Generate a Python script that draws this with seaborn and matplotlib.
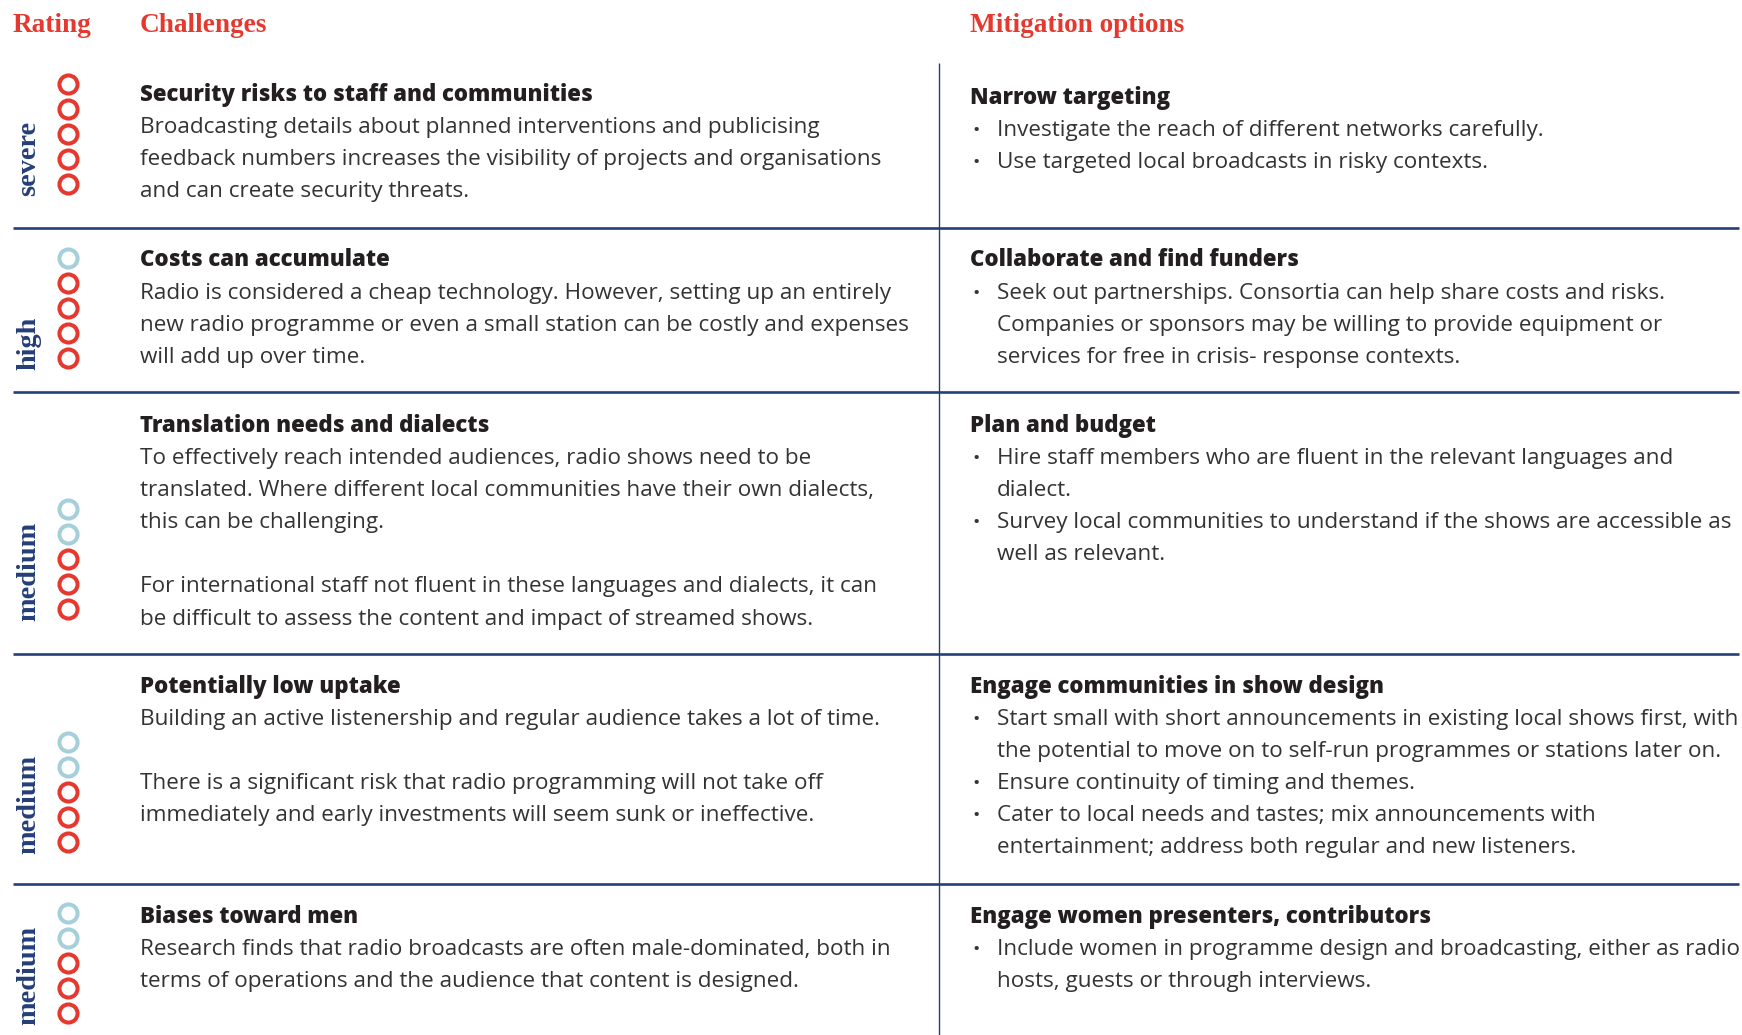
import pandas as pd
import seaborn as sns
import matplotlib.pyplot as plt

# ---- data ----
rating_levels = ["severe", "high", "medium", "medium", "medium"]
rating_scores = [5, 4, 3, 3, 3]  # red circles out of 5

challenge_titles = [
    "Security risks to staff and communities",
    "Costs can accumulate",
    "Translation needs and dialects",
    "Potentially low uptake",
    "Biases toward men",
]
challenge_lines = [
    ["Broadcasting details about planned interventions and publicising",
     "feedback numbers increases the visibility of projects and organisations",
     "and can create security threats."],
    ["Radio is considered a cheap technology. However, setting up an entirely",
     "new radio programme or even a small station can be costly and expenses",
     "will add up over time."],
    ["To effectively reach intended audiences, radio shows need to be",
     "translated. Where different local communities have their own dialects,",
     "this can be challenging.",
     "",
     "For international staff not fluent in these languages and dialects, it can",
     "be difficult to assess the content and impact of streamed shows."],
    ["Building an active listenership and regular audience takes a lot of time.",
     "",
     "There is a significant risk that radio programming will not take off",
     "immediately and early investments will seem sunk or ineffective."],
    ["Research finds that radio broadcasts are often male-dominated, both in",
     "terms of operations and the audience that content is designed."],
]

mitigation_titles = [
    "Narrow targeting",
    "Collaborate and find funders",
    "Plan and budget",
    "Engage communities in show design",
    "Engage women presenters, contributors",
]
mitigation_bullets = [
    [["Investigate the reach of different networks carefully."],
     ["Use targeted local broadcasts in risky contexts."]],
    [["Seek out partnerships. Consortia can help share costs and risks.",
      "Companies or sponsors may be willing to provide equipment or",
      "services for free in crisis- response contexts."]],
    [["Hire staff members who are fluent in the relevant languages and",
      "dialect."],
     ["Survey local communities to understand if the shows are accessible as",
      "well as relevant."]],
    [["Start small with short announcements in existing local shows first, with",
      "the potential to move on to self-run programmes or stations later on."],
     ["Ensure continuity of timing and themes."],
     ["Cater to local needs and tastes; mix announcements with",
      "entertainment; address both regular and new listeners."]],
    [["Include women in programme design and broadcasting, either as radio",
      "hosts, guests or through interviews."]],
]

headers = ["Rating", "Challenges", "Mitigation options"]

# ---- layout (pixels) ----
W, H = 1742, 1035
header_x = [13, 140, 970]
row_lines_y = [228, 392, 654, 884]
row_baseline = [100.8, 266.4, 431.9, 693, 923]
right_offset = [3.4, 0, 0, 0, 0]
circle_bottom_y = [184, 358, 609, 842, 1013]
circle_gap = 25
line_h = 32.1
divider_x = 939

RED = "#e5392f"
BLUE = "#a5cfda"
NAVY = "#243f78"
DARK = "#231f20"
BODY = "#333333"

sns.set_theme(style="white")
plt.rcParams["font.family"] = ["Open Sans", "DejaVu Sans"]

fig = plt.figure(figsize=(W / 100, H / 100), dpi=100)
ax = fig.add_axes([0, 0, 1, 1])

# circles
rows = []
for r, score in enumerate(rating_scores):
    for k in range(5):
        rows.append({"x": 68, "y": circle_bottom_y[r] - (4 - k) * circle_gap,
                     "level": "red" if k >= 5 - score else "blue"})
circles = pd.DataFrame(rows)
for lvl, col in [("red", RED), ("blue", BLUE)]:
    sns.scatterplot(data=circles[circles["level"] == lvl], x="x", y="y", ax=ax,
                    color="white", edgecolor=col, linewidth=2.9, s=170,
                    legend=False, zorder=3)

ax.set_xlim(0, W)
ax.set_ylim(H, 0)
ax.axis("off")

# grid lines
ax.hlines(row_lines_y, 13, 1739, color=NAVY, lw=1.9)
ax.vlines(divider_x, 63, H, color=NAVY, lw=1.0)

serif = ["Liberation Serif", "DejaVu Serif"]
for x, t in zip(header_x, headers):
    ax.text(x, 32.5, t, color=RED, fontsize=19.6, fontweight="bold",
            family=serif, va="baseline", ha="left")

FS = 16.2
for r in range(len(rating_levels)):
    ax.text(29, circle_bottom_y[r] + 12, rating_levels[r], rotation=90,
            color=NAVY, fontsize=20.3, fontweight="bold", family=serif,
            ha="center", va="bottom")

    y0 = row_baseline[r]
    ax.text(140, y0, challenge_titles[r], color=DARK, fontsize=16.0,
            fontweight=800, va="baseline")
    for i, ln in enumerate(challenge_lines[r]):
        ax.text(140, y0 + (i + 1) * line_h, ln, color=BODY, fontsize=FS,
                va="baseline")

    y1 = y0 + right_offset[r]
    ax.text(970, y1, mitigation_titles[r], color=DARK, fontsize=16.0,
            fontweight=800, va="baseline")
    i = 1
    for bullet in mitigation_bullets[r]:
        ax.text(972, y1 + i * line_h, "•", color=BODY, fontsize=14,
                va="baseline")
        for ln in bullet:
            ax.text(997, y1 + i * line_h, ln, color=BODY, fontsize=FS,
                    va="baseline")
            i += 1

fig.savefig("out.png", dpi=100, facecolor="white")
